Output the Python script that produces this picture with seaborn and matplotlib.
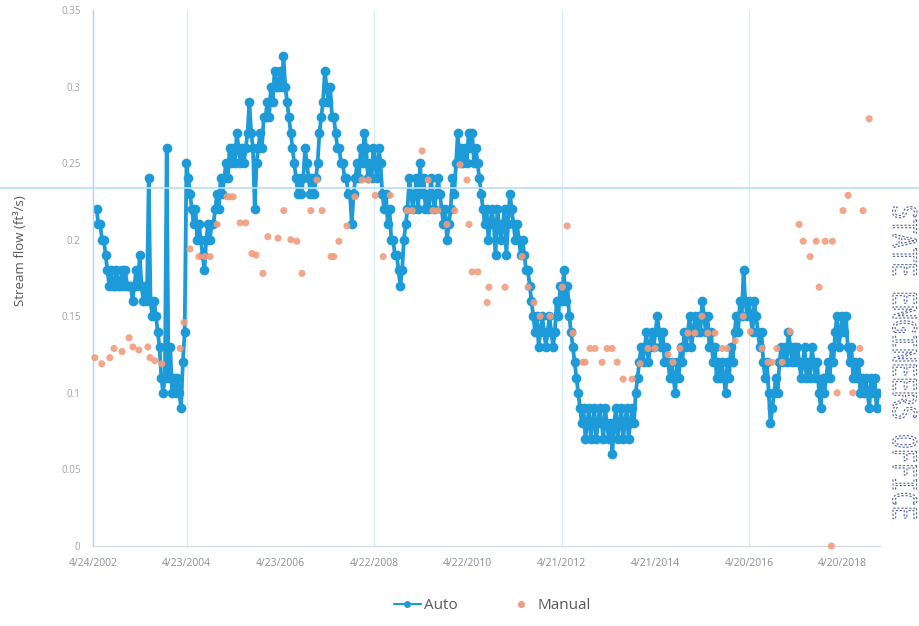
import matplotlib
matplotlib.use("Agg")
import matplotlib.pyplot as plt
from matplotlib.lines import Line2D
from matplotlib.textpath import TextPath
from matplotlib.patches import PathPatch
from matplotlib.font_manager import FontProperties
from matplotlib.transforms import Affine2D, IdentityTransform
import numpy as np
import pandas as pd
import seaborn as sns

# Automatic gauge: stream flow in hundredths of ft3/s, one reading every 14 days
auto_start = "2002-05-22"
auto_step = "14D"
auto_y01 = [22, 21, 21, 20, 20, 19, 18, 17, 18, 17, 17, 18, 17, 17, 18, 17, 18, 17, 17, 17, 16, 17, 18, 17, 19, 17]
auto_y02 = [16, 17, 16, 24, 16, 15, 16, 15, 14, 13, 11, 10, 11, 26, 11, 13, 10, 11, 10, 11, 10, 9, 12, 14, 25, 24]
auto_y03 = [23, 22, 21, 22, 20, 21, 20, 19, 18, 20, 21, 20, 21, 21, 22, 23, 22, 24, 23, 24, 25, 24, 26, 25, 26, 25]
auto_y04 = [27, 26, 25, 26, 25, 26, 27, 29, 27, 26, 22, 25, 26, 27, 26, 28, 28, 29, 28, 30, 29, 31, 30, 30, 31, 30]
auto_y05 = [32, 30, 29, 28, 27, 26, 25, 24, 23, 24, 23, 24, 26, 25, 24, 23, 24, 23, 24, 25, 27, 28, 29, 31, 30, 29]
auto_y06 = [30, 28, 28, 27, 26, 26, 25, 25, 24, 24, 23, 23, 21, 23, 24, 25, 24, 26, 25, 27, 26, 24, 25, 24, 26, 25]
auto_y07 = [24, 26, 25, 23, 22, 23, 21, 22, 20, 20, 19, 19, 18, 17, 18, 20, 21, 22, 24, 23, 22, 23, 24, 22, 25, 23]
auto_y08 = [24, 22, 23, 22, 24, 23, 22, 23, 24, 23, 22, 21, 22, 20, 21, 22, 24, 23, 25, 27, 25, 26, 25, 26, 25, 27]
auto_y09 = [26, 27, 25, 26, 25, 24, 23, 22, 21, 22, 20, 21, 22, 21, 19, 22, 21, 20, 21, 22, 19, 21, 23, 22, 21, 20]
auto_y10 = [21, 20, 19, 20, 19, 18, 18, 17, 16, 15, 14, 15, 13, 14, 15, 14, 13, 14, 15, 14, 13, 14, 16, 15, 17, 16]
auto_y11 = [18, 16, 17, 15, 14, 13, 12, 11, 10, 9, 8, 9, 7, 8, 9, 7, 8, 9, 7, 8, 9, 8, 7, 9, 8, 7]
auto_y12 = [8, 6, 8, 9, 7, 8, 9, 7, 8, 9, 7, 8, 9, 8, 10, 11, 12, 13, 12, 13, 14, 12, 13, 14, 13, 14]
auto_y13 = [15, 14, 13, 14, 12, 13, 12, 11, 12, 11, 10, 12, 11, 13, 12, 14, 13, 14, 15, 13, 14, 15, 14, 15, 14, 16]
auto_y14 = [15, 14, 15, 13, 14, 12, 13, 11, 12, 11, 12, 11, 10, 12, 11, 13, 12, 14, 15, 14, 16, 15, 18, 16, 15, 16]
auto_y15 = [15, 14, 16, 15, 14, 13, 14, 12, 11, 12, 10, 8, 9, 10, 11, 10, 12, 13, 12, 13, 12, 14, 13, 12, 13, 12]
auto_y16 = [13, 12, 11, 12, 13, 11, 12, 11, 13, 12, 11, 12, 10, 9, 11, 10, 11, 12, 11, 13, 12, 14, 15, 13, 14, 15]
auto_y17 = [14, 15, 13, 12, 13, 11, 12, 11, 12, 10, 11, 10, 11, 10, 9, 11, 10, 11, 9, 10]

# Manual field measurements (ft3/s)
manual_dates = [
    "2002-05-08", "2002-07-01", "2002-09-02", "2002-10-04", "2002-12-06", "2003-01-30",
    "2003-03-01", "2003-04-16", "2003-06-25", "2003-07-12", "2003-08-18", "2003-10-12",
    "2004-03-03", "2004-04-01", "2004-05-18", "2004-07-27", "2004-09-12", "2004-10-22",
    "2004-12-16", "2005-03-03", "2005-03-25", "2005-04-20", "2005-06-13", "2005-07-27",
    "2005-09-13", "2005-10-15", "2005-12-08", "2006-01-15", "2006-04-05", "2006-05-19",
    "2006-07-13", "2006-08-29", "2006-10-08", "2006-12-16", "2007-02-02", "2007-03-14",
    "2007-05-22", "2007-06-13", "2007-07-23", "2007-09-23", "2007-11-24", "2008-01-19",
    "2008-03-08", "2008-05-01", "2008-07-02", "2008-08-26", "2009-01-05", "2009-02-13",
    "2009-05-01", "2009-06-17", "2009-07-24", "2009-09-01", "2009-11-10", "2010-01-11",
    "2010-02-20", "2010-04-15", "2010-05-01", "2010-05-26", "2010-07-09", "2010-09-20",
    "2010-10-04", "2011-02-06", "2011-06-18", "2011-08-04", "2011-09-20", "2011-11-06",
    "2012-01-23", "2012-04-27", "2012-06-03", "2012-07-19", "2012-10-05", "2012-10-22",
    "2012-11-29", "2013-01-07", "2013-03-03", "2013-04-11", "2013-05-20", "2013-06-28",
    "2013-08-14", "2013-10-23", "2013-12-24", "2014-02-24", "2014-04-20", "2014-07-30",
    "2014-09-06", "2014-10-31", "2015-01-01", "2015-02-24", "2015-04-20", "2015-06-05",
    "2015-07-31", "2015-09-25", "2015-11-02", "2016-01-04", "2016-03-07", "2016-05-01",
    "2016-07-31", "2016-09-16", "2016-10-19", "2016-11-24", "2017-01-04", "2017-03-07",
    "2017-05-16", "2017-06-17", "2017-08-10", "2017-09-26", "2017-10-19", "2017-12-05",
    "2018-01-22", "2018-01-30", "2018-03-08", "2018-04-23", "2018-06-02", "2018-07-08",
    "2018-09-02", "2018-09-26", "2018-11-13",
]
manual_flow = [
    0.123, 0.119, 0.123, 0.129, 0.127, 0.136,
    0.130, 0.128, 0.130, 0.123, 0.121, 0.119,
    0.129, 0.146, 0.194, 0.189, 0.189, 0.189,
    0.210, 0.228, 0.228, 0.228, 0.211, 0.211,
    0.191, 0.190, 0.178, 0.202, 0.201, 0.219,
    0.200, 0.199, 0.178, 0.219, 0.239, 0.219,
    0.189, 0.189, 0.199, 0.209, 0.228, 0.239,
    0.239, 0.229, 0.189, 0.229, 0.219, 0.219,
    0.258, 0.239, 0.219, 0.219, 0.210, 0.219,
    0.249, 0.239, 0.210, 0.179, 0.179, 0.159,
    0.169, 0.169, 0.189, 0.169, 0.159, 0.150,
    0.150, 0.169, 0.209, 0.139, 0.120, 0.120,
    0.129, 0.129, 0.120, 0.129, 0.129, 0.120,
    0.109, 0.109, 0.119, 0.129, 0.129, 0.125,
    0.120, 0.129, 0.139, 0.139, 0.150, 0.139,
    0.139, 0.129, 0.129, 0.134, 0.150, 0.140,
    0.129, 0.120, 0.120, 0.129, 0.120, 0.140,
    0.210, 0.199, 0.189, 0.199, 0.169, 0.199,
    0.000, 0.199, 0.100, 0.219, 0.229, 0.100,
    0.129, 0.219, 0.279,
]

tick_dates = ["2002-04-24", "2004-04-23", "2006-04-23", "2008-04-22", "2010-04-22",
              "2012-04-21", "2014-04-21", "2016-04-20", "2018-04-20"]
tick_labels = ["4/24/2002", "4/23/2004", "4/23/2006", "4/22/2008", "4/22/2010",
               "4/21/2012", "4/21/2014", "4/20/2016", "4/20/2018"]
grid_dates = ["2004-04-23", "2008-04-22", "2012-04-21", "2016-04-20"]
y_ticks = [0, 0.05, 0.1, 0.15, 0.2, 0.25, 0.3, 0.35]
y_labels = ["0", "0.05", "0.1", "0.15", "0.2", "0.25", "0.3", "0.35"]

BLUE = "#1d9ad8"
SALMON = "#f29c7c"
GREY = "#595959"

auto_chunks = [auto_y01, auto_y02, auto_y03, auto_y04, auto_y05, auto_y06, auto_y07,
               auto_y08, auto_y09, auto_y10, auto_y11, auto_y12, auto_y13, auto_y14,
               auto_y15, auto_y16, auto_y17]
auto_flow = np.concatenate([np.array(c, dtype=float) for c in auto_chunks]) / 100.0
auto_df = pd.DataFrame({
    "date": pd.date_range(auto_start, periods=len(auto_flow), freq=auto_step),
    "flow": auto_flow,
})
manual_df = pd.DataFrame({"date": pd.to_datetime(manual_dates), "flow": manual_flow})

sns.set_theme(style="white")
plt.rcParams["font.family"] = ["Open Sans", "DejaVu Sans"]

fig = plt.figure(figsize=(9.2, 6.26), dpi=100)
ax = fig.add_axes([0.1011, 0.1278, 0.8554, 0.8562])

for d in grid_dates:
    ax.axvline(pd.Timestamp(d), color="#d6ecf7", lw=0.9, zorder=0)

sns.lineplot(data=auto_df, x="date", y="flow", ax=ax, color=BLUE, lw=2.7,
             marker="o", markersize=7, markeredgewidth=0, sort=False,
             estimator=None, legend=False, zorder=2)
sns.scatterplot(data=manual_df, x="date", y="flow", ax=ax, color=SALMON, s=26,
                edgecolor="none", alpha=0.9, legend=False, zorder=3, clip_on=False)

ax.set_xlim(pd.Timestamp("2002-04-24"), pd.Timestamp("2019-02-05"))
ax.set_ylim(0, 0.35)
ax.set_xticks(pd.to_datetime(tick_dates))
ax.set_xticklabels(tick_labels, fontsize=7.5, color="#8a8f96")
ax.set_yticks(y_ticks)
ax.set_yticklabels(y_labels, fontsize=7, color="#a3a3a3")
ax.tick_params(axis="both", length=0, pad=9)
ax.set_xlabel("")
ax.set_ylabel("")

for side in ("top", "right"):
    ax.spines[side].set_visible(False)
ax.spines["left"].set_color("#a9d6ee")
ax.spines["left"].set_linewidth(1.0)
ax.spines["bottom"].set_color("#d5dde3")
ax.spines["bottom"].set_linewidth(1.0)

fig.text(0.022, 0.600, "Stream flow (ft\u00b3/s)", rotation=90, ha="center",
         va="center", fontsize=9.5, color=GREY)

# Light rule running across the whole sheet
fig.add_artist(Line2D([0, 1], [0.6997, 0.6997], transform=fig.transFigure,
                      color="#b8dff2", lw=1.2, zorder=1))

handles = [
    Line2D([], [], color=BLUE, lw=1.5, marker="o", markersize=5, markeredgewidth=0),
    Line2D([], [], color=SALMON, lw=0, marker="o", markersize=5, markeredgewidth=0),
]
fig.legend(handles, ["Auto", "Manual"], loc="center", bbox_to_anchor=(0.535, 0.032),
           ncol=2, frameon=False, fontsize=11, labelcolor=GREY, handlelength=1.8,
           handletextpad=0.2, columnspacing=3.2)

# Office stamp, dotted stencil letters running down the right margin
stamp = TextPath((0, 0), "STATE ENGINEERS OFFICE", size=34,
                 prop=FontProperties(family="DejaVu Sans Mono"))
place = Affine2D().scale(0.70, 0.95).rotate_deg(-90).translate(893, 421)
fig.add_artist(PathPatch(place.transform_path(stamp), facecolor="none",
                         edgecolor="#3d4f95", lw=0.8, linestyle=(0, (2.0, 1.6)),
                         alpha=0.9, transform=IdentityTransform(), zorder=5))

fig.savefig("out.png", dpi=100)
